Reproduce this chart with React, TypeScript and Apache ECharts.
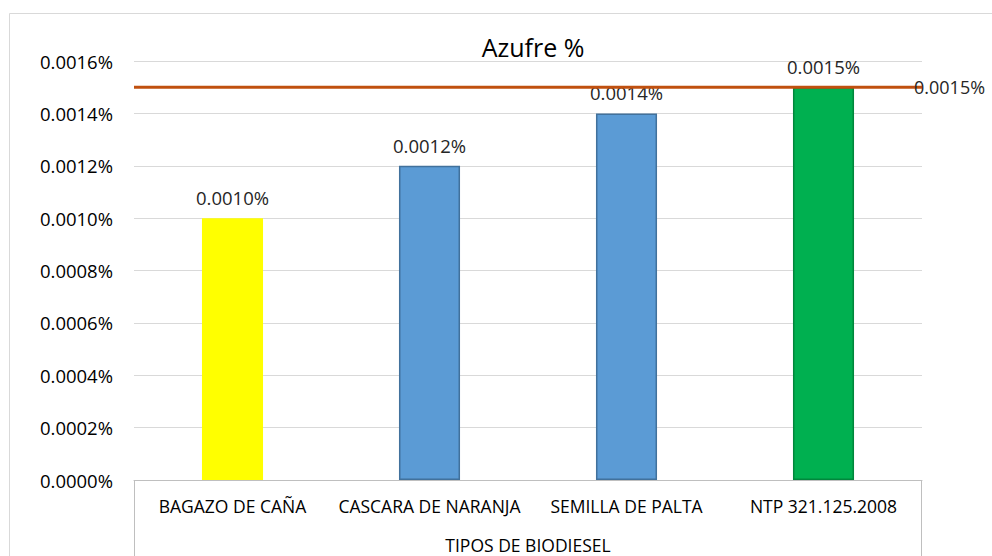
import React, { useEffect, useRef } from "react";
import * as echarts from "echarts";

const categories = ["BAGAZO DE CAÑA", "CASCARA DE NARANJA", "SEMILLA DE PALTA", "NTP 321.125.2008"];
const sulfurValues = [0.001, 0.0012, 0.0014, 0.0015];
const barColors = ["#FFFF00", "#5B9BD5", "#5B9BD5", "#00B050"];
const barBorders = ["#FFFF00", "#41719C", "#41719C", "#00873C"];
const limitValue = 0.0015;
const limitSpan = [0, 1];
const yTicks = { min: 0, max: 0.0016, interval: 0.0002 };
const chartTitle = "Azufre %";
const xAxisTitle = "TIPOS DE BIODIESEL";

const FONT = "Open Sans";

export default function App() {
  const ref = useRef<HTMLDivElement>(null);
  useEffect(() => {
    if (!ref.current) return;
    const chart = echarts.init(ref.current, undefined, { renderer: "svg" });
    const fmt = (v: number) => v.toFixed(4) + "%";
    chart.setOption({
      animation: false,
      backgroundColor: "#ffffff",
      textStyle: { fontFamily: FONT },
      title: {
        text: chartTitle,
        left: 528,
        top: 29,
        textAlign: "center",
        textStyle: { fontFamily: FONT, fontSize: 25, fontWeight: "normal", color: "#000000" },
      },
      grid: { left: 134, right: 70, top: 61, bottom: 76, containLabel: false, outerBoundsMode: "none" },
      xAxis: [
        {
          type: "category",
          data: categories,
          name: xAxisTitle,
          nameLocation: "middle",
          nameGap: 56,
          nameTextStyle: { fontFamily: FONT, fontSize: 17.5, color: "#000000" },
          axisLine: { show: true, lineStyle: { color: "#BFBFBF", width: 1 } },
          axisTick: { show: false },
          axisLabel: { fontFamily: FONT, fontSize: 17.5, color: "#000000", margin: 17, interval: 0, hideOverlap: false },
        },
        {
          type: "value",
          min: limitSpan[0],
          max: limitSpan[1],
          show: false,
        },
      ],
      yAxis: {
        type: "value",
        min: yTicks.min,
        max: yTicks.max,
        interval: yTicks.interval,
        axisLine: { show: false },
        axisTick: { show: false },
        splitLine: { lineStyle: { color: "#D9D9D9", width: 1 } },
        axisLabel: { fontFamily: FONT, fontSize: 18.5, color: "#000000", margin: 21, formatter: fmt },
      },
      graphic: [
        {
          type: "rect",
          shape: { x: 9.5, y: 13.5, width: 1000, height: 600 },
          style: { fill: "none", stroke: "#D9D9D9", lineWidth: 1 },
          silent: true,
          z: -10,
        },
        {
          type: "line",
          shape: { x1: 134.5, y1: 480, x2: 134.5, y2: 560 },
          style: { stroke: "#BFBFBF", lineWidth: 1 },
        },
        {
          type: "line",
          shape: { x1: 921.5, y1: 480, x2: 921.5, y2: 560 },
          style: { stroke: "#BFBFBF", lineWidth: 1 },
        },
      ],
      series: [
        {
          type: "bar",
          barWidth: "31%",
          data: sulfurValues.map((v, i) => ({
            value: v,
            itemStyle: { color: barColors[i], borderColor: barBorders[i], borderWidth: i === 0 ? 0 : 1.5 },
          })),
          label: {
            show: true,
            position: "top",
            distance: 11,
            fontFamily: FONT,
            fontSize: 18.5,
            color: "#262626",
            formatter: (p: any) => fmt(p.value),
          },
        },
        {
          type: "line",
          xAxisIndex: 1,
          yAxisIndex: 0,
          symbol: "none",
          silent: true,
          z: 10,
          data: limitSpan.map((x) => [x, limitValue]),
          lineStyle: { color: "#C0500F", width: 3 },
          itemStyle: { color: "#C0500F" },
          endLabel: {
            show: true,
            distance: -8,
            fontFamily: FONT,
            fontSize: 18,
            color: "#262626",
            formatter: () => fmt(limitValue),
          },
        },
      ],
    });
    return () => chart.dispose();
  }, []);
  return (
    <div
      ref={ref}
      style={{ position: "fixed", left: 0, top: 0, width: 992, height: 556 }}
    />
  );
}
